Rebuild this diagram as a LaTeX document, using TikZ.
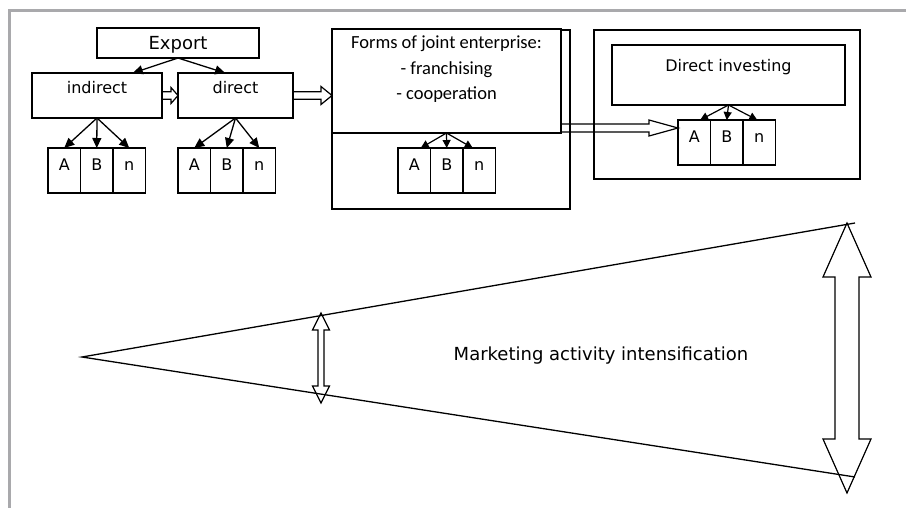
\documentclass[tikz,border=0pt]{standalone}
\usepackage{fontspec}
\setmainfont{DejaVu Sans}
\newfontfamily\calfont{Carlito}
\usetikzlibrary{arrows.meta,calc}
\definecolor{framegray}{RGB}{169,169,172}
\tikzset{
 box/.style={draw, line width=1.4pt, inner sep=0pt, outer sep=0pt},
 cell/.style={box, minimum width=32.5pt, minimum height=45pt, anchor=north west},
 lbl/.style={inner sep=0pt, anchor=base, font=\fontsize{16}{19}\selectfont},
 calt/.style={inner sep=0pt, anchor=base, font=\calfont\fontsize{18.5}{22}\selectfont},
 arr/.style={line width=1.3pt, -{Triangle[length=10pt,width=9pt]}},
 sarr/.style={line width=1.2pt, -{Triangle[length=8pt,width=8pt]}},
 hollow/.style={line width=1.2pt, line join=miter},
 wedge/.style={line width=1.3pt}
}
\newcommand{\abncells}[3]{%
 \node[cell] (#1a) at (#2,#3) {};
 \node[cell] (#1b) at (#1a.north east) {};
 \node[cell] (#1n) at (#1b.north east) {};
 \node[lbl] (#1at) at (#1a.center) {A};
 \node[lbl] (#1bt) at (#1b.center) {B};
 \node[lbl] (#1nt) at (#1n.center) {n};
}
\newcommand{\hollowh}[5]{%
 \draw[hollow] let \p1=(#1), \p2=(#2) in
  (\x1,\y1+#3) -- (\x2-#5,\y1+#3) -- (\x2-#5,\y1+#4) -- (\x2,\y1)
  -- (\x2-#5,\y1-#4) -- (\x2-#5,\y1-#3) -- (\x1,\y1-#3);
}
\newcommand{\hollowv}[5]{%
 \draw[hollow] let \p1=(#1), \p2=(#2) in
  (\x1,\y1) -- (\x1+#4,\y1-#5) -- (\x1+#3,\y1-#5) -- (\x1+#3,\y2+#5)
  -- (\x1+#4,\y2+#5) -- (\x1,\y2) -- (\x1-#4,\y2+#5) -- (\x1-#3,\y2+#5)
  -- (\x1-#3,\y1-#5) -- (\x1-#4,\y1-#5) -- cycle;
}
\begin{document}
\begin{tikzpicture}[x=1pt,y=-1pt]
\useasboundingbox (0,0) rectangle (906,508);
\draw[framegray, line width=3pt] (906,11) -- (9,11) -- (9,508);

% Export tree
\node[box, minimum width=162pt, minimum height=30pt] (export) at (178,43) {};
\node[lbl, font=\fontsize{18}{21}\selectfont] (exportt) at (178,50) {Export};
\node[box, minimum width=130pt, minimum height=45pt] (indirect) at (97,95.5) {};
\node[lbl] (indirectt) at (97,94) {indirect};
\node[box, minimum width=115pt, minimum height=45pt] (direct) at (235.5,95.5) {};
\node[lbl] (directt) at (235.5,94) {direct};
\abncells{c1}{48}{148}
\abncells{c2}{178}{148}

% joint enterprise
\node[box, minimum width=238pt, minimum height=179pt, anchor=north west] (formsout) at (332,30) {};
\node[box, fill=white, minimum width=229pt, minimum height=104pt, anchor=north west] (formsin) at (332,29) {};
\node[calt] (f1) at (446.5,49) {Forms of joint enterprise:};
\node[calt] (f2) at (446.5,74.5) {- franchising};
\node[calt] (f3) at (446.5,100) {- cooperation};
\abncells{c3}{398}{148}

% direct investing
\node[box, minimum width=266pt, minimum height=149pt, anchor=north west] (diout) at (594,30) {};
\node[box, minimum width=233pt, minimum height=60pt, anchor=north west] (diin) at (612,45) {};
\node[lbl] (dit) at (728.5,72) {Direct investing};
\abncells{c4}{678}{120}

% connectors
\draw[arr] (export.south) -- ($(indirect.north)!0.55!(indirect.north east)$);
\draw[arr] (export.south) -- ($(direct.north)!0.18!(direct.north west)$);
\foreach \c in {c1a,c1b,c1n} \draw[arr] (indirect.south) -- (\c.north);
\foreach \c in {c2a,c2b,c2n} \draw[arr] (direct.south) -- (\c.north);
\draw[sarr] (formsin.south) -- ($(c3a.north)!0.2!(c3b.north)$);
\draw[sarr] (formsin.south) -- (c3b.north);
\draw[sarr] (formsin.south) -- ($(c3n.north)!0.2!(c3b.north)$);
\draw[sarr] (diin.south) -- ($(c4a.north)!0.18!(c4b.north)$);
\draw[sarr] (diin.south) -- (c4b.north);
\draw[sarr] (diin.south) -- ($(c4n.north)!0.06!(c4b.north)$);

\hollowh{indirect.east}{direct.west}{3.7pt}{8pt}{7pt}
\hollowh{direct.east}{formsin.west}{3.7pt}{9pt}{11pt}
\coordinate (fa) at ($(formsin.south east)+(0,-5)$);
\hollowh{fa}{c4a.west}{4pt}{8pt}{29pt}

% wedge
\coordinate (apex) at (82,357);
\coordinate (wtop) at (855,223);
\coordinate (wbot) at (855,477);
\draw[wedge] (wtop) -- (apex) -- (wbot);
\coordinate (s1t) at (321,313);
\coordinate (s1b) at (321,403);
\hollowv{s1t}{s1b}{3pt}{8.5pt}{17pt}
\coordinate (b1t) at (847,223);
\coordinate (b1b) at (847,493);
\hollowv{b1t}{b1b}{12pt}{24pt}{54pt}
\node[lbl, font=\fontsize{18}{21}\selectfont] (mai) at (601,360) {Marketing activity intensification};
\end{tikzpicture}
\end{document}
